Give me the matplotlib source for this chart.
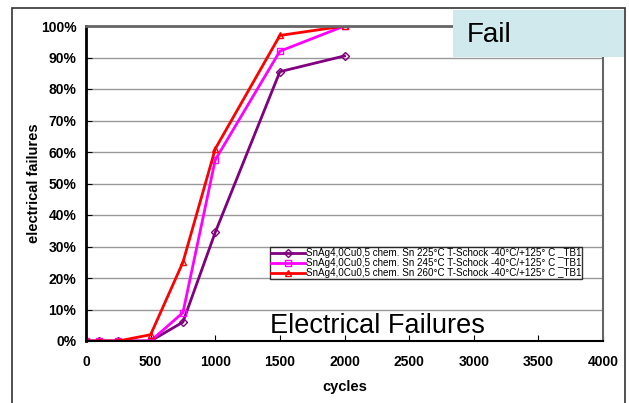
import matplotlib
matplotlib.use("Agg")
import matplotlib.pyplot as plt
import matplotlib.patches as patches
from matplotlib.ticker import FuncFormatter

plt.rcParams['font.family'] = ['Liberation Sans', 'DejaVu Sans']

# ---- data ----
cycles = [0, 100, 250, 500, 750, 1000, 1500, 2000]
fail_225 = [0, 0, 0, 0, 6, 34.5, 85.5, 90.5]
fail_245 = [0, 0, 0, 0, 9, 57.5, 92, 100]
fail_260 = [0, 0, 0, 2, 25, 61, 97, 100]
labels = [
    "SnAg4,0Cu0,5 chem. Sn 225°C T-Schock -40°C/+125° C _TB1",
    "SnAg4,0Cu0,5 chem. Sn 245°C T-Schock -40°C/+125° C _TB1",
    "SnAg4,0Cu0,5 chem. Sn 260°C T-Schock -40°C/+125° C _TB1",
]

W, H = 629, 403
fig = plt.figure(figsize=(W / 100, H / 100), dpi=100)
ax = fig.add_axes([86 / W, 1 - 341 / H, (603 - 86) / W, (341 - 26) / H])

# outer frame
fig.patches.append(patches.Rectangle((12 / W, -0.05), (625 - 12) / W, 1 - 8 / H + 0.05,
                                     transform=fig.transFigure, fill=False,
                                     edgecolor='#333333', lw=1.2, zorder=0))

ax.plot(cycles, fail_225, '-D', color='#800080', lw=2, ms=4, mfc='none', mew=1, label=labels[0])
ax.plot(cycles, fail_245, '-s', color='#ff00ff', lw=2, ms=5, mfc='none', mew=1, label=labels[1])
ax.plot(cycles, fail_260, '-^', color='#ff0000', lw=2, ms=5, mfc='none', mew=1, label=labels[2])

ax.set_xlim(0, 4000)
ax.set_ylim(0, 100)
ax.set_xticks(range(0, 4001, 500))
ax.set_yticks(range(0, 101, 10))
ax.yaxis.set_major_formatter(FuncFormatter(lambda v, p: f"{int(v)}%"))
ax.grid(axis='y', color='#999999', lw=1)
ax.set_axisbelow(True)
ax.tick_params(labelsize=10, direction='in', length=4, pad=7)
for lab in ax.get_xticklabels() + ax.get_yticklabels():
    lab.set_fontweight('bold')
ax.tick_params(axis='x', pad=10)

ax.spines['left'].set_color('black')
ax.spines['left'].set_linewidth(2)
ax.spines['bottom'].set_color('black')
ax.spines['bottom'].set_linewidth(1.5)
ax.spines['top'].set_color('#666666')
ax.spines['top'].set_linewidth(2)
ax.spines['right'].set_color('#666666')
ax.spines['right'].set_linewidth(1.5)

ax.set_xlabel('cycles', fontsize=10.5, fontweight='bold', labelpad=8)
ax.set_ylabel('electrical failures', fontsize=10.5, fontweight='bold', labelpad=0)

leg = ax.legend(loc='upper left', bbox_to_anchor=((270 - 86) / (603 - 86), (341 - 247) / (341 - 26)),
                fontsize=7.1, frameon=True, fancybox=False, edgecolor='black',
                borderpad=0.1, labelspacing=0.0, handlelength=3.4, handletextpad=0.1,
                borderaxespad=0)
leg.get_frame().set_linewidth(1)

fig.text(270 / W, 1 - 333 / H, 'Electrical Failures', fontsize=19.5, va='baseline')

# "Fail" box on top
fig.patches.append(patches.Rectangle((453 / W, 1 - 57 / H), (624 - 453) / W, (57 - 10) / H,
                                     transform=fig.transFigure, facecolor='#d0e9ec',
                                     edgecolor='none', zorder=5))
fig.text(467 / W, 1 - 42 / H, 'Fail', fontsize=20, zorder=6, va='baseline')

fig.savefig('out.png', dpi=100)
